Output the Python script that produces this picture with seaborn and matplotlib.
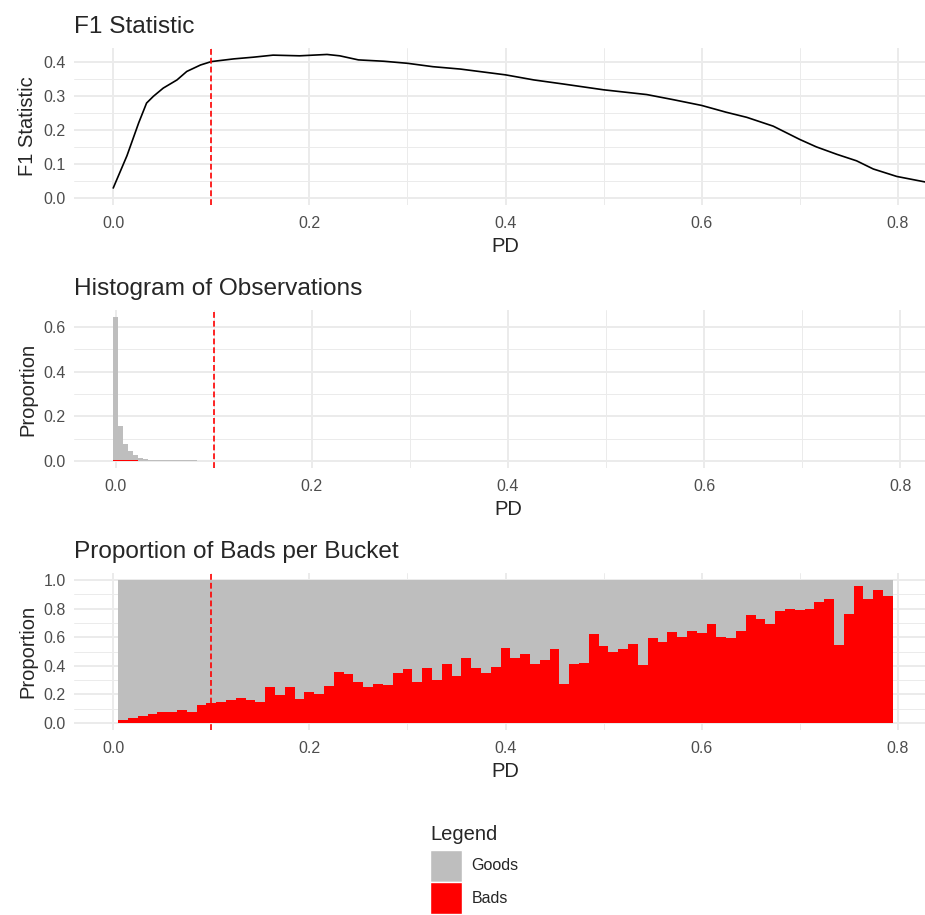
import numpy as np
import pandas as pd
import matplotlib
matplotlib.use("Agg")
import matplotlib.pyplot as plt
import seaborn as sns
from matplotlib.patches import Patch
from matplotlib.ticker import MultipleLocator, FormatStrFormatter

# F1 statistic against the PD cut-off
f1_pd = [0.000, 0.014, 0.026, 0.034, 0.041, 0.051, 0.065, 0.075, 0.089, 0.100,
         0.123, 0.143, 0.163, 0.190, 0.218, 0.231, 0.250, 0.276, 0.300, 0.326,
         0.354, 0.400, 0.429, 0.459, 0.500, 0.544, 0.571, 0.600, 0.625, 0.646,
         0.673, 0.700, 0.717, 0.738, 0.758, 0.775, 0.799, 0.840]
f1_value = [0.029, 0.124, 0.221, 0.279, 0.299, 0.323, 0.347, 0.372, 0.391, 0.401,
            0.409, 0.414, 0.420, 0.418, 0.422, 0.418, 0.406, 0.402, 0.396, 0.386,
            0.379, 0.362, 0.347, 0.335, 0.318, 0.304, 0.289, 0.272, 0.252, 0.237,
            0.211, 0.172, 0.150, 0.128, 0.109, 0.085, 0.063, 0.040]

cutoff = 0.1

# histogram of observations (proportion of all observations per 0.005 bin)
hist_pd = [0.000, 0.005, 0.010, 0.015, 0.020, 0.025, 0.030, 0.035, 0.040, 0.045,
           0.050, 0.055, 0.060, 0.065, 0.070, 0.075, 0.080, 0.085, 0.090, 0.095,
           0.100, 0.105, 0.110]
hist_total = [0.645, 0.157, 0.075, 0.043, 0.025, 0.014, 0.009, 0.006, 0.005, 0.004,
              0.0035, 0.003, 0.0028, 0.0025, 0.0022, 0.002, 0.0018, 0.0016, 0.0015,
              0.0014, 0.0013, 0.0012, 0.0011]
hist_bads = [0.002, 0.003, 0.003, 0.003, 0.002, 0.001, 0.001, 0.0008, 0.0006, 0.0005,
             0.0004, 0.0003, 0.0003, 0.0002, 0.0002, 0.0002, 0.0001, 0.0001, 0.0001,
             0.0001, 0.0001, 0.0001, 0.0001]

# proportion of bads per 0.01 bucket
bucket_pd = [round(0.01 * i, 2) for i in range(1, 80)]
bucket_bad_rate = [0.019, 0.035, 0.047, 0.061, 0.073, 0.073, 0.089, 0.078, 0.127, 0.136,
                   0.146, 0.160, 0.174, 0.160, 0.146, 0.251, 0.193, 0.251, 0.169, 0.214,
                   0.202, 0.261, 0.355, 0.343, 0.287, 0.249, 0.273, 0.266, 0.350, 0.380,
                   0.287, 0.385, 0.303, 0.411, 0.329, 0.456, 0.385, 0.348, 0.390, 0.524,
                   0.451, 0.482, 0.413, 0.437, 0.517, 0.270, 0.411, 0.418, 0.625, 0.538,
                   0.493, 0.521, 0.556, 0.404, 0.596, 0.566, 0.636, 0.603, 0.643, 0.629,
                   0.693, 0.603, 0.596, 0.643, 0.756, 0.728, 0.693, 0.787, 0.796, 0.789,
                   0.798, 0.850, 0.871, 0.547, 0.763, 0.958, 0.869, 0.930, 0.887]

GOOD_COL = "#BEBEBE"
BAD_COL = "#FF0000"
palette = {"Goods": GOOD_COL, "Bads": BAD_COL}

sns.set_theme(style="white")
plt.rcParams["font.family"] = ["Liberation Sans", "DejaVu Sans"]

W, H = 925, 915
fig = plt.figure(figsize=(W / 100, H / 100), dpi=100)


def add_ax(left, right, top, bottom):
    # pixel box -> figure fraction
    return fig.add_axes([left / W, 1 - bottom / H, (right - left) / W, (bottom - top) / H])


def style(ax, title, ylabel, ymajor, yminor, box):
    left, right, top, bottom = box
    ax.set_title(title, loc="left", fontsize=17.6, pad=10.5)
    ax.set_xlabel("PD", fontsize=14.5)
    ax.set_ylabel(ylabel, fontsize=14.5)
    ax.xaxis.set_label_coords(0.5, -32 / (bottom - top))
    # rotated label: its anchor is the right side of the text box
    ax.yaxis.set_label_coords(-(left - 37) / (right - left), 0.5)
    ax.xaxis.set_major_locator(MultipleLocator(0.2))
    ax.xaxis.set_minor_locator(MultipleLocator(0.1))
    ax.yaxis.set_major_locator(MultipleLocator(ymajor))
    ax.yaxis.set_minor_locator(MultipleLocator(yminor))
    ax.xaxis.set_major_formatter(FormatStrFormatter("%.1f"))
    ax.yaxis.set_major_formatter(FormatStrFormatter("%.1f"))
    ax.grid(which="major", color="#EBEBEB", lw=1.4)
    ax.grid(which="minor", color="#EBEBEB", lw=0.7)
    ax.set_axisbelow(True)
    ax.tick_params(which="both", length=0, labelsize=11.5, labelcolor="#4D4D4D")
    ax.tick_params(axis="x", pad=8)
    ax.tick_params(axis="y", pad=6)
    for s in ax.spines.values():
        s.set_visible(False)
    ax.axvline(cutoff, color=BAD_COL, ls=(0, (3.5, 1.8)), lw=1.2, zorder=5)


# --- F1 statistic
box1 = (74, 937, 48, 205)
ax1 = add_ax(*box1)
sns.lineplot(x=f1_pd, y=f1_value, ax=ax1, color="black", lw=1.2)
ax1.set_xlim(-0.04, 0.84)
ax1.set_ylim(-0.021, 0.441)
style(ax1, "F1 Statistic", "F1 Statistic", 0.1, 0.05, box1)

# --- histogram of observations
hist_df = pd.DataFrame({
    "PD": hist_pd * 2,
    "Status": ["Goods"] * len(hist_pd) + ["Bads"] * len(hist_pd),
    "Proportion": [t - b for t, b in zip(hist_total, hist_bads)] + hist_bads,
})
box2 = (74, 942, 310, 468)
ax2 = add_ax(*box2)
sns.histplot(data=hist_df, x="PD", weights="Proportion", hue="Status",
             hue_order=["Goods", "Bads"], palette=palette, multiple="stack",
             binwidth=0.005, binrange=(-0.0025, 0.1125), element="step",
             alpha=1, linewidth=0, legend=False, ax=ax2)
ax2.set_xlim(-0.0425, 0.8425)
ax2.set_ylim(-0.032, 0.677)
style(ax2, "Histogram of Observations", "Proportion", 0.2, 0.1, box2)

# --- proportion of bads per bucket
bucket_df = pd.DataFrame({
    "PD": bucket_pd * 2,
    "Status": ["Goods"] * len(bucket_pd) + ["Bads"] * len(bucket_pd),
    "Proportion": [1 - b for b in bucket_bad_rate] + bucket_bad_rate,
})
box3 = (74, 937, 573, 730)
ax3 = add_ax(*box3)
sns.histplot(data=bucket_df, x="PD", weights="Proportion", hue="Status",
             hue_order=["Goods", "Bads"], palette=palette, multiple="stack",
             binwidth=0.01, binrange=(0.005, 0.795), element="step",
             alpha=1, linewidth=0, legend=False, ax=ax3)
ax3.set_xlim(-0.04, 0.84)
ax3.set_ylim(-0.05, 1.05)
style(ax3, "Proportion of Bads per Bucket", "Proportion", 0.2, 0.1, box3)

# --- legend
handles = [Patch(facecolor=GOOD_COL, label="Goods"), Patch(facecolor=BAD_COL, label="Bads")]
leg = fig.legend(handles=handles, title="Legend", loc="upper left",
                 bbox_to_anchor=(430 / W, 1 - 825 / H), frameon=False, borderpad=0,
                 borderaxespad=0, fontsize=11.5, title_fontsize=14.5, alignment="left",
                 handlelength=2.0, handleheight=2.7, labelspacing=0.06,
                 handletextpad=0.6)
leg._legend_box.sep = 4

fig.savefig("out.png", dpi=100)
